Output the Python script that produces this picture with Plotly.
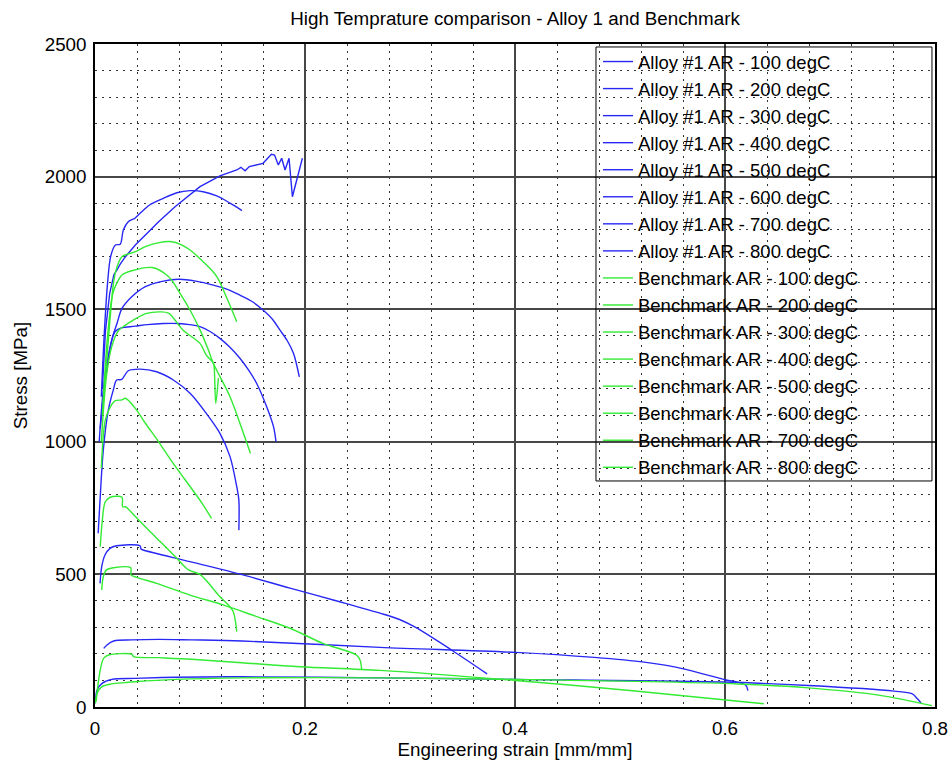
import plotly.graph_objects as go

# ---------------- data ----------------
alloy_100_x = [0.007, 0.010, 0.014, 0.018, 0.021, 0.024, 0.029, 0.0384, 0.048, 0.0606, 0.0765, 0.092, 0.100, 0.119, 0.135, 0.139, 0.1429, 0.147, 0.160, 0.168, 0.171, 0.1746, 0.1778, 0.181, 0.1848, 0.188, 0.1975]
alloy_100_y = [1200, 1420, 1560, 1630, 1648, 1670, 1698, 1742, 1780, 1830, 1887, 1937, 1962, 2003, 2025, 2035, 2022, 2038, 2050, 2084, 2081, 2044, 2069, 2025, 2069, 1924, 2069]

alloy_200_x = [0.006, 0.009, 0.012, 0.015, 0.0194, 0.024, 0.027, 0.0317, 0.038, 0.043, 0.052, 0.065, 0.078, 0.0905, 0.103, 0.116, 0.129, 0.140]
alloy_200_y = [1170, 1420, 1600, 1700, 1742, 1745, 1799, 1830, 1843, 1862, 1893, 1918, 1939, 1947, 1943, 1927, 1899, 1872]

alloy_300_x = [0.005, 0.0098, 0.016, 0.021, 0.0257, 0.035, 0.048, 0.064, 0.0797, 0.096, 0.1127, 0.126, 0.138, 0.150, 0.160, 0.169, 0.176, 0.183, 0.189, 0.1946]
alloy_300_y = [1050, 1233, 1384, 1447, 1503, 1547, 1585, 1605, 1613, 1606, 1591, 1575, 1553, 1528, 1497, 1462, 1422, 1382, 1334, 1245]

alloy_400_x = [0.004, 0.008, 0.013, 0.019, 0.0254, 0.029, 0.0384, 0.050, 0.065, 0.0797, 0.090, 0.100, 0.110, 0.119, 0.128, 0.138, 0.146, 0.154, 0.1635, 0.170, 0.1724]
alloy_400_y = [1000, 1200, 1330, 1415, 1430, 1432, 1436, 1442, 1446, 1446, 1442, 1434, 1415, 1390, 1358, 1315, 1272, 1220, 1132, 1057, 1000]

alloy_500_x = [0.003, 0.0048, 0.0079, 0.0127, 0.0174, 0.0206, 0.0254, 0.0317, 0.0429, 0.0587, 0.0746, 0.0905, 0.106, 0.119, 0.1286, 0.135, 0.137, 0.137]
alloy_500_y = [655, 781, 969, 1120, 1195, 1233, 1235, 1268, 1274, 1264, 1233, 1183, 1107, 1032, 944, 831, 781, 667]

alloy_600_x = [0.0048, 0.0064, 0.0095, 0.0143, 0.0206, 0.0429, 0.0438, 0.046, 0.0905, 0.141, 0.1857, 0.233, 0.2714, 0.290, 0.3054, 0.3395, 0.3734]
alloy_600_y = [466, 529, 573, 598, 608, 608, 596, 592, 548, 498, 448, 397, 354, 330, 300, 215, 125]

alloy_700_x = [0.0083, 0.0114, 0.0178, 0.035, 0.0606, 0.092, 0.140, 0.2714, 0.4007, 0.4755, 0.523, 0.5605, 0.601, 0.6116, 0.620, 0.6218]
alloy_700_y = [221, 234, 249, 253, 255, 253, 249, 225, 206, 187, 169, 144, 102, 94, 81, 62]

alloy_800_x = [0.0003, 0.002, 0.0067, 0.016, 0.038, 0.0765, 0.140, 0.2714, 0.4007, 0.598, 0.6796, 0.761, 0.778, 0.7833, 0.7867]
alloy_800_y = [14, 64, 89, 104, 108, 112, 114, 110, 104, 94, 81, 60, 50, 31, 15]

bench_100_x = [0.008, 0.013, 0.018, 0.021, 0.0257, 0.0384, 0.048, 0.060, 0.0714, 0.0829, 0.0905, 0.103, 0.116, 0.125, 0.135]
bench_100_y = [1150, 1400, 1610, 1660, 1698, 1717, 1736, 1750, 1755, 1742, 1723, 1679, 1623, 1547, 1453]

bench_200_x = [0.007, 0.012, 0.017, 0.021, 0.0257, 0.035, 0.0543, 0.070, 0.081, 0.0905, 0.100, 0.108, 0.1127, 0.1286, 0.138, 0.148]
bench_200_y = [1100, 1400, 1560, 1600, 1629, 1645, 1657, 1623, 1560, 1497, 1422, 1346, 1296, 1170, 1070, 957]

bench_300_x = [0.006, 0.011, 0.016, 0.0225, 0.029, 0.0365, 0.049, 0.062, 0.070, 0.084, 0.100, 0.106, 0.1127, 0.1135, 0.115, 0.1175]
bench_300_y = [1000, 1250, 1360, 1420, 1440, 1459, 1484, 1490, 1485, 1421, 1371, 1327, 1296, 1280, 1145, 1240]

bench_400_x = [0.006, 0.0098, 0.0146, 0.0194, 0.0257, 0.029, 0.0384, 0.048, 0.0606, 0.0733, 0.086, 0.102, 0.111]
bench_400_y = [900, 1082, 1132, 1155, 1158, 1164, 1126, 1070, 1000, 925, 856, 768, 711]

bench_500_x = [0.005, 0.0067, 0.0098, 0.0146, 0.0257, 0.0263, 0.029, 0.0384, 0.051, 0.0638, 0.0765, 0.089, 0.100, 0.119, 0.1286, 0.1317, 0.134, 0.135]
bench_500_y = [604, 693, 774, 791, 791, 755, 755, 718, 667, 617, 567, 517, 500, 416, 378, 359, 316, 284]

bench_600_x = [0.0064, 0.0079, 0.011, 0.0175, 0.034, 0.0343, 0.0397, 0.0587, 0.0905, 0.122, 0.154, 0.1857, 0.217, 0.249, 0.2524, 0.254]
bench_600_y = [441, 491, 517, 525, 525, 498, 489, 466, 422, 385, 341, 297, 240, 196, 177, 140]

bench_700_x = [0.001, 0.005, 0.0083, 0.013, 0.035, 0.0368, 0.0606, 0.092, 0.140, 0.195, 0.2714, 0.4007, 0.5095, 0.637]
bench_700_y = [20, 140, 184, 196, 199, 190, 186, 180, 167, 152, 138, 100, 62, 12]

bench_800_x = [0.0003, 0.002, 0.0067, 0.016, 0.029, 0.038, 0.0765, 0.140, 0.2714, 0.4007, 0.6116, 0.6796, 0.7476, 0.797]
bench_800_y = [14, 52, 77, 87, 92, 95, 104, 110, 110, 104, 87, 72, 44, 5]

temperatures = [100, 200, 300, 400, 500, 600, 700, 800]
alloy_x = [alloy_100_x, alloy_200_x, alloy_300_x, alloy_400_x, alloy_500_x, alloy_600_x, alloy_700_x, alloy_800_x]
alloy_y = [alloy_100_y, alloy_200_y, alloy_300_y, alloy_400_y, alloy_500_y, alloy_600_y, alloy_700_y, alloy_800_y]
bench_x = [bench_100_x, bench_200_x, bench_300_x, bench_400_x, bench_500_x, bench_600_x, bench_700_x, bench_800_x]
bench_y = [bench_100_y, bench_200_y, bench_300_y, bench_400_y, bench_500_y, bench_600_y, bench_700_y, bench_800_y]

x_tickvals = [0, 0.2, 0.4, 0.6, 0.8]
x_ticktext = ["0", "0.2", "0.4", "0.6", "0.8"]
y_tickvals = [0, 500, 1000, 1500, 2000, 2500]
y_ticktext = ["0", "500", "1000", "1500", "2000", "2500"]

BLUE = "rgb(40,40,245)"
GREEN = "rgb(50,235,50)"
FONT = "Liberation Sans, Arial, Helvetica, sans-serif"
FS = 18.8

# curves with serrations are drawn straight, the smooth ones as splines
serrated = {"a100"}

fig = go.Figure()
for i, t in enumerate(temperatures):
    shape = "linear" if f"a{t}" in serrated else "spline"
    fig.add_trace(go.Scatter(x=alloy_x[i], y=alloy_y[i], mode="lines",
                             line=dict(color=BLUE, width=1.4, shape=shape, smoothing=0.9),
                             name=f"Alloy #1 AR - {t} degC", legendgroup=f"a{t}"))
for i, t in enumerate(temperatures):
    fig.add_trace(go.Scatter(x=bench_x[i], y=bench_y[i], mode="lines",
                             line=dict(color=GREEN, width=1.4, shape="spline", smoothing=0.9),
                             name=f"Benchmark AR - {t} degC", legendgroup=f"b{t}"))

axis_common = dict(
    showgrid=True, gridcolor="#474747", gridwidth=1.6,
    showline=True, mirror=True, linecolor="black", linewidth=1.5,
    ticks="", zeroline=False, automargin=False,
    tickfont=dict(family=FONT, size=FS, color="black"),
)

fig.update_xaxes(range=[0, 0.8], tickvals=x_tickvals, ticktext=x_ticktext,
                 ticklabelstandoff=4,
                 minor=dict(dtick=0.04, showgrid=True, gridcolor="#333333",
                            griddash="2px,5px", gridwidth=1.2),
                 title=dict(text="Engineering strain [mm/mm]", standoff=4,
                            font=dict(family=FONT, size=FS, color="black")),
                 **axis_common)
fig.update_yaxes(range=[0, 2500], tickvals=y_tickvals, ticktext=y_ticktext,
                 ticklabelstandoff=3,
                 minor=dict(dtick=100, showgrid=True, gridcolor="#333333",
                            griddash="2px,5px", gridwidth=1.2),
                 title=dict(text="Stress [MPa]", standoff=12,
                            font=dict(family=FONT, size=FS, color="black")),
                 **axis_common)

fig.update_layout(
    width=952, height=765, autosize=False,
    margin=dict(l=95, r=17, t=44, b=58, autoexpand=False),
    paper_bgcolor="white", plot_bgcolor="white",
    font=dict(family=FONT, color="black"),
    title=dict(text="High Temprature comparison - Alloy 1 and Benchmark",
               x=0.5, xref="paper", xanchor="center",
               y=1 - 18 / 765, yref="container", yanchor="middle",
               font=dict(family=FONT, size=FS, color="black")),
    legend=dict(x=0.5988, y=1.0015, xanchor="left", yanchor="top",
                bgcolor="rgba(0,0,0,0)", borderwidth=0,
                font=dict(family=FONT, size=18.5, color="black"),
                itemwidth=30, tracegroupgap=0, maxheight=720),
    showlegend=True,
)

fig.add_shape(type="rect", xref="paper", yref="paper",
              x0=0.5964, x1=0.9964, y0=0.3409, y1=0.9955,
              line=dict(color="black", width=1), fillcolor="rgba(0,0,0,0)")

fig.write_html("out.html")
